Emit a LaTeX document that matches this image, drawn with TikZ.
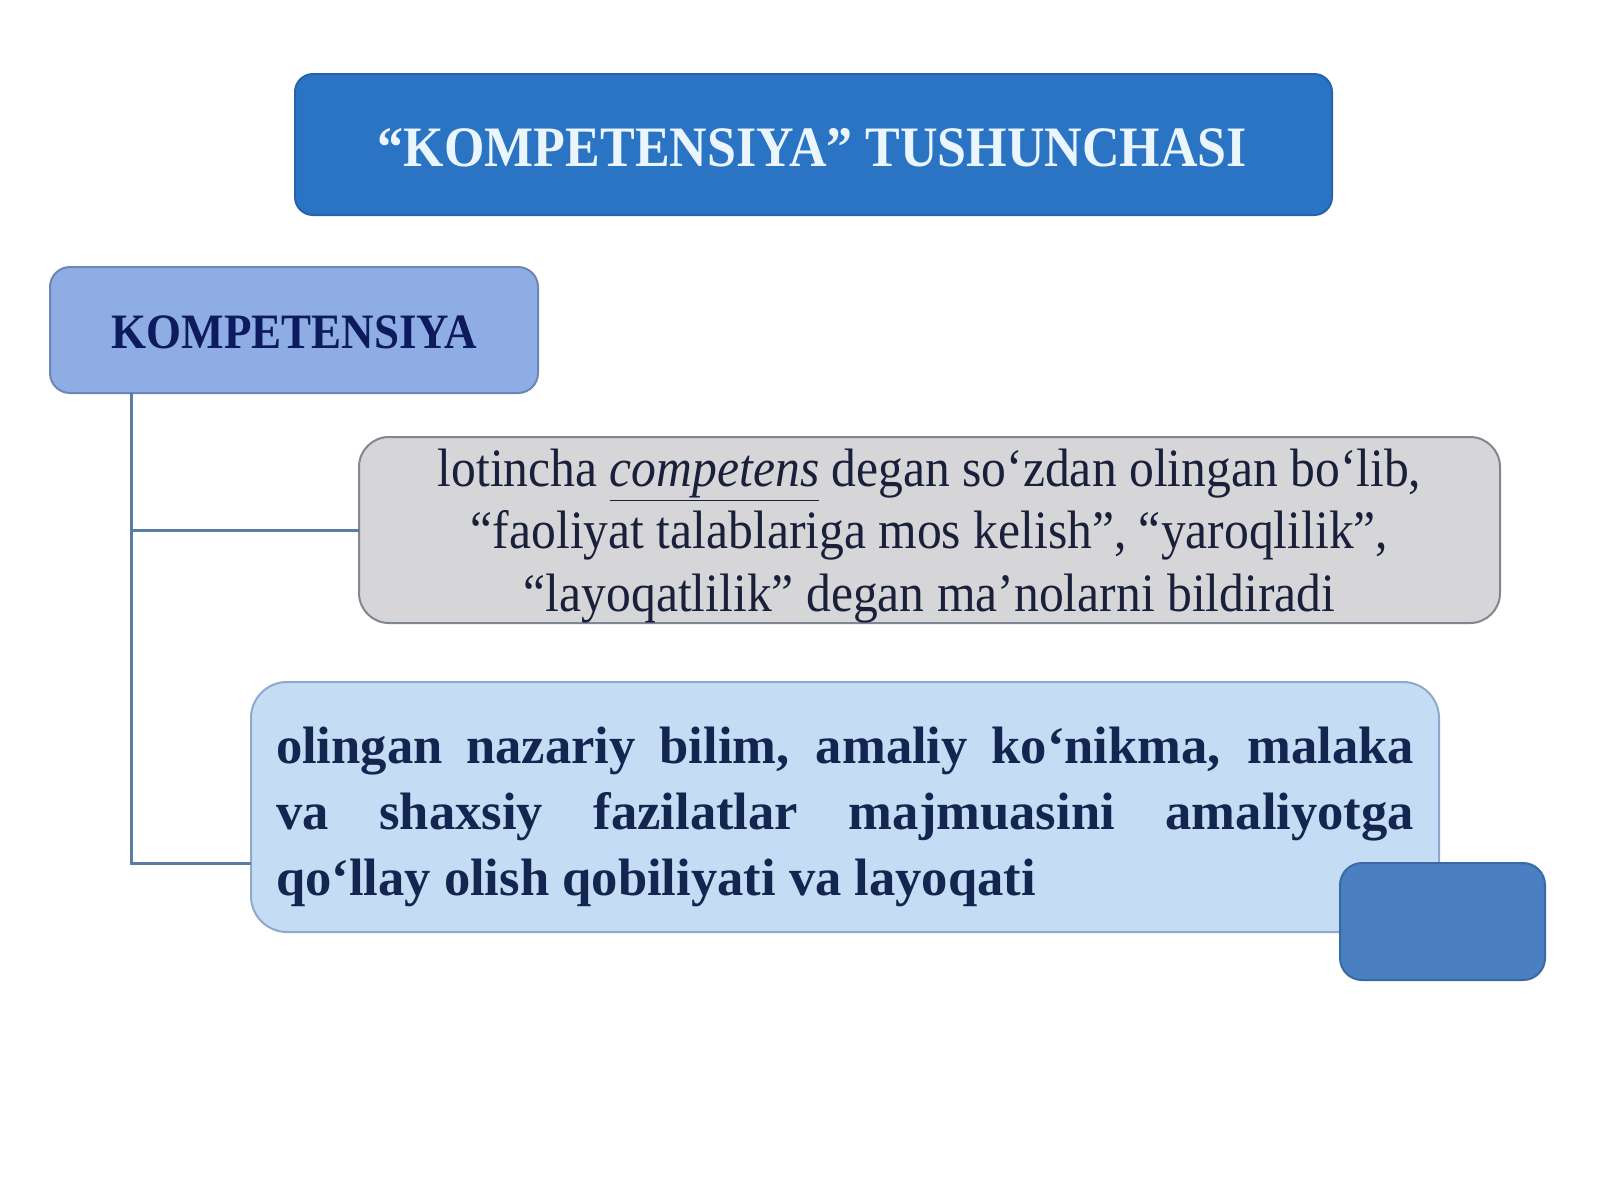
\documentclass[tikz,border=0pt]{standalone}
\usepackage{fontspec}
\setmainfont{Liberation Serif}
\usepackage{graphicx}
\newcommand{\vstr}[2]{\scalebox{1}[#1]{#2}}
\definecolor{titlefill}{HTML}{2B74C4}
\definecolor{titledraw}{HTML}{2563AD}
\definecolor{titletext}{HTML}{EAF6FC}
\definecolor{kompfill}{HTML}{8FADE5}
\definecolor{kompdraw}{HTML}{6D86B5}
\definecolor{komptext}{HTML}{0D1B5E}
\definecolor{grayfill}{HTML}{D6D6D9}
\definecolor{graydraw}{HTML}{7F8792}
\definecolor{graytext}{HTML}{1A1F3A}
\definecolor{lbluefill}{HTML}{C4DDF5}
\definecolor{lbluedraw}{HTML}{8EA9CC}
\definecolor{lbluetext}{HTML}{14254F}
\definecolor{smallfill}{HTML}{4A80C1}
\definecolor{smalldraw}{HTML}{3A6AA5}
\definecolor{connc}{HTML}{5A7CA3}
\begin{document}
\begin{tikzpicture}[x=0.5pt,y=-0.5pt,
  box/.style={inner sep=0pt,outer sep=0pt,line width=1pt},
  titlebox/.style={box,fill=titlefill,draw=titledraw,rounded corners=9pt,
    minimum width=518.5pt,minimum height=70.5pt},
  kompbox/.style={box,fill=kompfill,draw=kompdraw,rounded corners=10pt,
    minimum width=244pt,minimum height=63pt},
  graybox/.style={box,fill=grayfill,draw=graydraw,rounded corners=15pt,
    minimum width=570.5pt,minimum height=93pt},
  lbluebox/.style={box,fill=lbluefill,draw=lbluedraw,rounded corners=18pt,
    minimum width=594pt,minimum height=125pt},
  smallbox/.style={box,fill=smallfill,draw=smalldraw,rounded corners=11pt,
    minimum width=102.5pt,minimum height=58.5pt},
  txt/.style={inner sep=0pt,outer sep=0pt},
  conn/.style={draw=connc,line width=1.5pt}
]
\useasboundingbox (0,0) rectangle (1600,1200);
\fill[white] (0,0) rectangle (1600,1200);

% boxes
\node[titlebox] (title) at (813.5,144.5) {};
\node[kompbox] (komp) at (294,330) {};
\node[graybox] (gray) at (929.5,530) {};
\node[lbluebox] (lblue) at (845,807) {};
\node[smallbox] (small) at (1442.5,921.5) {};

% connectors
\coordinate (tx) at (131,0);
\coordinate (b2) at (251,863);
\draw[conn] (komp.south -| tx) |- (b2);
\draw[conn] (tx |- gray.west) -- (gray.west);

% texts
\node[txt,text=titletext] (titletxt) at (812.5,148)
  {\vstr{1.1}{\fontsize{26}{30}\selectfont\bfseries “KOMPETENSIYA” TUSHUNCHASI}};
\node[txt,text=komptext] (komptxt) at (294.5,332)
  {\vstr{1.1}{\fontsize{22.5}{26}\selectfont\bfseries KOMPETENSIYA}};
\node[txt,text=graytext] (graytxt) at (929.5,536)
  {\vstr{1.09}{\parbox{560pt}{\centering\fontsize{24.8}{28.7}\selectfont
   lotincha \underline{\textit{competens}} degan so‘zdan olingan bo‘lib,\\
   “faoliyat talablariga mos kelish”, “yaroqlilik”,\\
   “layoqatlilik” degan ma’nolarni bildiradi}}};
\node[txt,text=lbluetext] (lbluetxt) at (845,817)
  {\parbox{569pt}{\fontsize{26.3}{33}\selectfont\bfseries
   \hyphenpenalty=10000\emergencystretch=100pt
   olingan nazariy bilim, amaliy ko‘nikma, malaka\linebreak
   va shaxsiy fazilatlar majmuasini amaliyotga\linebreak
   qo‘llay olish qobiliyati va layoqati}};
\end{tikzpicture}
\end{document}
